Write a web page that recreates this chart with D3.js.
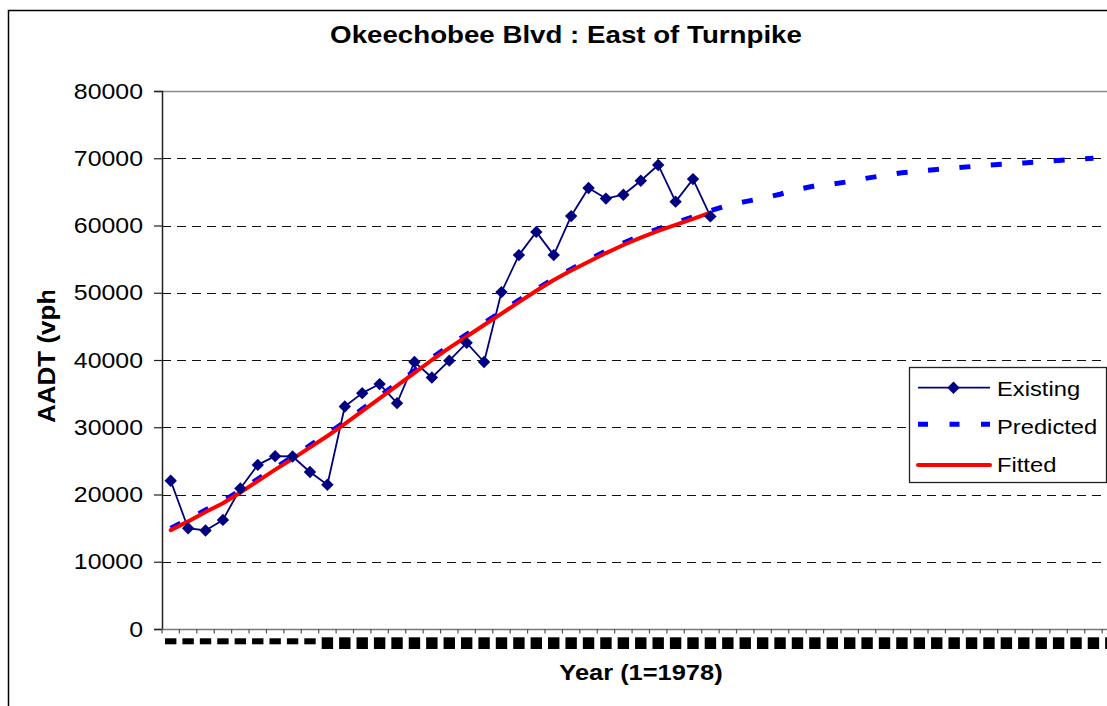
<!DOCTYPE html>
<html>
<head>
<meta charset="utf-8">
<script src="https://cdn.jsdelivr.net/npm/d3@7"></script>
<style>
  body { margin: 0; background: #fff; overflow: hidden; }
  svg { display: block; }
  text { font-family: "Liberation Sans", Arial, sans-serif; fill: #000; }
</style>
</head>
<body>
<svg id="chart" width="1107" height="706"></svg>
<script>
// Year index along the category axis (1 = 1978)
const years = d3.range(1, 56);

// Observed AADT counts
const existing = [
  22050, 14980, 14650, 16220, 20900, 24400, 25700, 25650, 23350, 21450,
  33080, 35070, 36420, 33580, 39700, 37400, 39900, 42550, 39700, 50100,
  55600, 59050, 55600, 61400, 65580, 64000, 64580, 66650, 69000, 63550,
  66900, 61350
];

// Model projection (continues beyond the observed years)
const predicted = [
  15000, 16300, 17700, 19000, 20600, 22300, 23950, 25600, 27300, 29000,
  30800, 32700, 34600, 36500, 38400, 40300, 42100, 43800, 45500, 47200,
  48900, 50500, 52100, 53500, 54900, 56200, 57400, 58500, 59500, 60400,
  61300, 62200, 63000, 63550, 64050, 64650, 65350, 65900, 66150, 66550,
  67050, 67450, 67850, 68100, 68330, 68550, 68770, 68990, 69150, 69310,
  69500, 69670, 69830, 70000
];

// Fitted curve over the observed years
const fitted = [
  14700, 16000, 17400, 18700, 20300, 22000, 23700, 25300, 27000, 28700,
  30500, 32400, 34300, 36200, 38100, 40000, 41800, 43500, 45200, 46900,
  48600, 50300, 51900, 53300, 54600, 55900, 57100, 58200, 59200, 60100,
  61000, 61900
];

const yTicks = [0, 10000, 20000, 30000, 40000, 50000, 60000, 70000, 80000];

const titleText = "Okeechobee Blvd : East of Turnpike";
const xTitle = "Year (1=1978)";
const yTitle = "AADT (vph)";
const seriesNames = ["Existing", "Predicted", "Fitted"];

const svg = d3.select("#chart");
const STRETCH = 1.13;

// widen glyphs horizontally a little, keeping them as text
function stretch(sel) {
  sel.each(function () {
    const len = this.getComputedTextLength();
    if (len > 0) {
      d3.select(this).attr("textLength", len * STRETCH).attr("lengthAdjust", "spacingAndGlyphs");
    }
  });
}

const plot = { left: 162, top: 91, bottom: 629, right: 162 + 55 * 17.41 };

const x = d3.scaleBand().domain(years).range([plot.left, plot.right]).paddingInner(0).paddingOuter(0);
const y = d3.scaleLinear().domain([0, 80000]).range([plot.bottom, plot.top]);
const cx = d => x(d) + x.bandwidth() / 2;

// chart frame
svg.append("rect")
  .attr("x", 8.5).attr("y", 10.5).attr("width", 1114).attr("height", 740)
  .attr("fill", "#fff").attr("stroke", "#000").attr("stroke-width", 1.5);

// title
svg.append("text")
  .attr("x", 566).attr("y", 43)
  .attr("text-anchor", "middle")
  .style("font-size", "24.5px").style("font-weight", "bold")
  .text(titleText)
  .call(stretch);

// horizontal gridlines
svg.append("g")
  .selectAll("line")
  .data(yTicks.filter(v => v > 0 && v < 80000))
  .join("line")
  .attr("x1", plot.left).attr("x2", plot.right)
  .attr("y1", d => Math.round(y(d)) + 0.5).attr("y2", d => Math.round(y(d)) + 0.5)
  .attr("stroke", "#111").attr("stroke-width", 1.2)
  .attr("stroke-dasharray", "9,6");

// plot-area top border
svg.append("line")
  .attr("x1", plot.left).attr("x2", plot.right)
  .attr("y1", plot.top + 0.5).attr("y2", plot.top + 0.5)
  .attr("stroke", "#8a8a8a").attr("stroke-width", 1.5);

// y axis
const yAxis = d3.axisLeft(y)
  .tickValues(yTicks)
  .tickSize(8)
  .tickPadding(11)
  .tickFormat(d3.format("d"));

const gy = svg.append("g")
  .attr("transform", `translate(${plot.left},0)`)
  .call(yAxis);
gy.select(".domain").attr("stroke", "#222").attr("stroke-width", 1.5);
gy.selectAll(".tick line").attr("stroke", "#222").attr("stroke-width", 1.2);
gy.selectAll(".tick text")
  .style("font-size", "22px")
  .style("font-family", "'Liberation Sans', Arial, sans-serif")
  .attr("fill", "#000")
  .call(stretch);

// x axis line and tick marks at category boundaries
svg.append("line")
  .attr("x1", plot.left).attr("x2", plot.right)
  .attr("y1", plot.bottom + 0.5).attr("y2", plot.bottom + 0.5)
  .attr("stroke", "#777").attr("stroke-width", 1.5);

svg.append("g")
  .selectAll("line")
  .data(years.map(d => x(d)).concat([plot.right]))
  .join("line")
  .attr("x1", d => d).attr("x2", d => d)
  .attr("y1", plot.bottom).attr("y2", plot.bottom + 4.5)
  .attr("stroke", "#555").attr("stroke-width", 1.2);

// category label blocks under the axis
svg.append("g")
  .selectAll("rect")
  .data(years)
  .join("rect")
  .attr("x", d => cx(d) - 5.7)
  .attr("width", 11.4)
  .attr("y", d => String(d).length === 1 ? 638.3 : 637.3)
  .attr("height", d => String(d).length === 1 ? 6 : 11.7)
  .attr("fill", "#000");

// axis titles
svg.append("text")
  .attr("x", 641).attr("y", 680)
  .attr("text-anchor", "middle")
  .style("font-size", "22.5px").style("font-weight", "bold")
  .text(xTitle)
  .call(stretch);

svg.append("clipPath").attr("id", "ytitle-clip")
  .append("rect").attr("x", 0).attr("y", 291).attr("width", 150).attr("height", 300);

svg.append("g")
  .attr("clip-path", "url(#ytitle-clip)")
  .append("text")
  .attr("transform", "translate(55,423) rotate(-90)")
  .attr("text-anchor", "start")
  .style("font-size", "23px").style("font-weight", "bold")
  .text(yTitle)
  .call(stretch);

// series lines
const lineOf = arr => d3.line()
  .x((v, i) => cx(years[i]))
  .y(v => y(v))(arr);

svg.append("path")
  .attr("d", lineOf(existing))
  .attr("fill", "none").attr("stroke", "#000080").attr("stroke-width", 1.8)
  .attr("stroke-linejoin", "round");

svg.append("path")
  .attr("d", lineOf(predicted))
  .attr("fill", "none").attr("stroke", "#0000ff").attr("stroke-width", 5)
  .attr("stroke-dasharray", "11,20.5");

svg.append("path")
  .attr("d", lineOf(fitted))
  .attr("fill", "none").attr("stroke", "#ff0000").attr("stroke-width", 4)
  .attr("stroke-linejoin", "round").attr("stroke-linecap", "round");

// diamond markers for observed counts
const diamond = r => `M0,${-r}L${r},0L0,${r}L${-r},0Z`;
svg.append("g")
  .selectAll("path")
  .data(existing)
  .join("path")
  .attr("d", diamond(6.2))
  .attr("transform", (v, i) => `translate(${cx(years[i])},${y(v)})`)
  .attr("fill", "#000080");

// legend
const lg = svg.append("g");
lg.append("rect")
  .attr("x", 909.5).attr("y", 367.5).attr("width", 197).attr("height", 115)
  .attr("fill", "#fff").attr("stroke", "#222").attr("stroke-width", 1.3);

const legendRows = [
  { name: seriesNames[0], ly: 387.7, ty: 395.5 },
  { name: seriesNames[1], ly: 424.3, ty: 433.5 },
  { name: seriesNames[2], ly: 465, ty: 472 }
];

lg.append("line")
  .attr("x1", 918).attr("x2", 990).attr("y1", legendRows[0].ly).attr("y2", legendRows[0].ly)
  .attr("stroke", "#000080").attr("stroke-width", 1.8);
lg.append("path")
  .attr("d", diamond(6.2))
  .attr("transform", `translate(953.5,${legendRows[0].ly})`)
  .attr("fill", "#000080");

lg.append("line")
  .attr("x1", 918).attr("x2", 990).attr("y1", legendRows[1].ly).attr("y2", legendRows[1].ly)
  .attr("stroke", "#0000ff").attr("stroke-width", 5)
  .attr("stroke-dasharray", "10,21.5");

lg.append("line")
  .attr("x1", 918).attr("x2", 990).attr("y1", legendRows[2].ly).attr("y2", legendRows[2].ly)
  .attr("stroke", "#ff0000").attr("stroke-width", 4).attr("stroke-linecap", "round");

lg.selectAll("text.lab")
  .data(legendRows)
  .join("text")
  .attr("class", "lab")
  .attr("x", 997).attr("y", d => d.ty)
  .style("font-size", "21px")
  .text(d => d.name)
  .call(stretch);
</script>
</body>
</html>
